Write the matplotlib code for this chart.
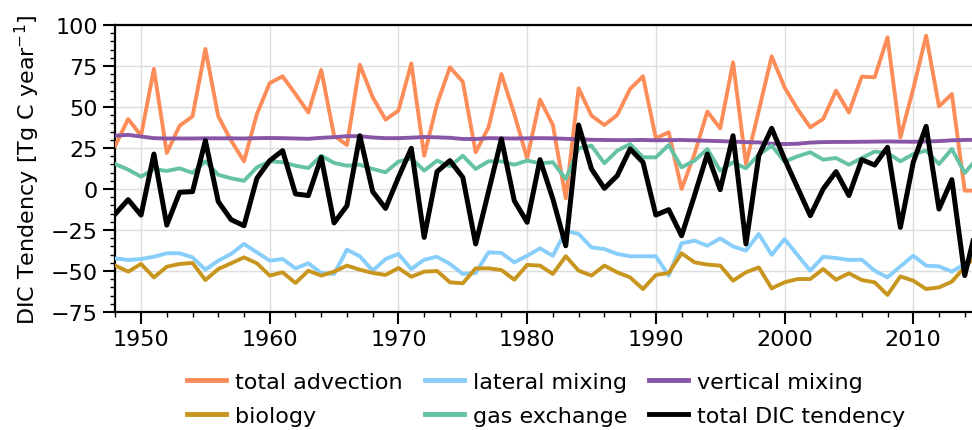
import matplotlib
matplotlib.use("Agg")
import matplotlib.pyplot as plt
from matplotlib.ticker import MultipleLocator

years = list(range(1948, 2016))

total_advection = [26.4, 42.7, 32.5, 73.2, 22.0, 38.6, 44.3, 85.4, 44.3, 29.5,
                   16.9, 45.7, 64.6, 68.7, 57.9, 46.7, 72.6, 32.5, 26.8, 75.8,
                   55.9, 42.3, 47.8, 76.6, 20.3, 51.8, 74.2, 65.4, 22.4, 37.6,
                   70.1, 45.7, 18.7, 54.5, 39.0, -5.7, 61.4, 44.7, 39.0, 45.1,
                   61.0, 68.7, 30.9, 34.6, 0.0, 21.3, 47.2, 37.0, 77.2, 15.2,
                   47.8, 80.9, 62.0, 48.8, 37.6, 42.7, 60.0, 46.7, 68.5, 68.1,
                   92.5, 31.5, 61.0, 93.5, 50.4, 57.9, -1.0, -1.0]

lateral_mixing = [-42.3, -43.3, -42.7, -41.3, -39.2, -39.2, -41.7, -49.2, -43.7, -39.6,
                  -33.5, -38.6, -43.7, -42.7, -48.4, -45.3, -51.2, -51.8, -37.0, -41.0,
                  -49.8, -42.7, -39.6, -48.8, -43.1, -41.3, -45.7, -51.8, -51.2, -38.6,
                  -39.0, -44.7, -40.7, -36.2, -40.7, -25.4, -27.4, -35.6, -36.6, -39.6,
                  -41.0, -41.0, -41.0, -52.8, -33.1, -31.5, -34.6, -30.1, -35.0, -37.6,
                  -27.4, -40.2, -30.5, -40.2, -49.8, -41.3, -42.1, -43.3, -43.1, -49.8,
                  -53.9, -47.2, -40.7, -46.7, -47.2, -50.4, -45.7, -38.0]

vertical_mixing = [32.5, 33.0, 32.0, 31.0, 30.8, 30.8, 30.8, 30.9, 30.9, 30.9,
                   30.8, 31.0, 31.1, 31.0, 30.8, 30.6, 31.2, 31.6, 32.2, 32.2,
                   31.4, 31.0, 31.0, 31.3, 31.7, 31.5, 31.2, 30.5, 30.5, 31.0,
                   30.9, 30.8, 30.9, 31.0, 30.9, 30.6, 30.3, 30.0, 29.9, 29.8,
                   29.8, 29.9, 29.7, 29.8, 29.9, 29.7, 29.4, 29.2, 28.9, 28.6,
                   28.4, 27.6, 27.4, 27.6, 28.3, 28.6, 28.7, 28.7, 28.8, 28.9,
                   29.0, 28.9, 28.8, 29.0, 29.2, 29.7, 29.9, 30.0]

biology = [-46.7, -50.4, -45.7, -53.9, -47.4, -45.7, -45.1, -55.5, -48.8, -45.3,
           -41.7, -45.3, -52.8, -50.8, -57.3, -49.8, -52.8, -50.4, -46.7, -49.2,
           -51.2, -52.4, -48.2, -53.5, -50.4, -50.0, -56.9, -57.5, -48.4, -48.4,
           -49.4, -55.3, -46.3, -46.7, -51.8, -41.0, -49.8, -52.8, -46.7, -50.8,
           -53.9, -61.0, -52.4, -51.2, -39.2, -44.7, -46.1, -46.7, -55.9, -50.8,
           -47.8, -60.6, -56.9, -54.9, -54.9, -48.8, -55.3, -51.4, -55.5, -56.9,
           -64.6, -53.3, -55.9, -61.0, -60.0, -56.5, -47.6, -40.0]

gas_exchange = [15.2, 11.8, 7.5, 12.2, 11.0, 12.6, 9.8, 16.9, 8.7, 6.5,
                5.0, 13.2, 16.9, 16.3, 14.2, 12.8, 20.3, 15.9, 14.2, 14.8,
                12.2, 10.2, 16.7, 18.7, 11.2, 17.3, 13.8, 20.3, 12.2, 16.9,
                16.9, 14.8, 17.3, 15.7, 16.3, 6.1, 24.8, 26.4, 15.7, 23.4,
                27.4, 19.3, 19.3, 26.8, 13.2, 17.3, 24.4, 11.2, 16.3, 12.6,
                21.0, 26.4, 16.7, 19.9, 22.4, 17.9, 18.9, 14.8, 18.9, 22.8,
                22.0, 16.9, 21.3, 23.4, 15.2, 24.4, 9.8, 19.0]

total_dic = [-15.2, -6.5, -15.9, 21.3, -22.0, -2.0, -1.6, 29.5, -7.7, -18.7,
             -22.4, 6.5, 17.3, 23.4, -3.0, -4.0, 19.3, -20.7, -10.2, 32.5,
             -1.6, -11.8, 7.1, 24.8, -29.5, 10.6, 17.3, 7.1, -33.5, -1.6,
             30.5, -7.1, -20.3, 17.9, -6.1, -34.6, 39.0, 12.2, 0.4, 8.1,
             24.4, 16.3, -15.9, -12.6, -28.5, -4.0, 21.3, -0.4, 32.5, -33.5,
             20.3, 37.0, 18.3, 1.0, -16.3, 0.0, 10.6, -4.0, 17.9, 14.6,
             25.4, -23.4, 16.3, 38.2, -12.2, 5.7, -52.8, -20.0]

series = [
    ("total advection", total_advection, "#fc8d59", 2.8),
    ("lateral mixing", lateral_mixing, "#87cefa", 2.8),
    ("vertical mixing", vertical_mixing, "#8856a7", 2.8),
    ("biology", biology, "#c8961e", 2.8),
    ("gas exchange", gas_exchange, "#66c2a5", 2.8),
    ("total DIC tendency", total_dic, "black", 3.6),
]

plt.rcParams["font.family"] = ["DejaVu Sans"]
plt.rcParams["font.size"] = 16

fig = plt.figure(figsize=(9.72, 4.31), dpi=100)
ax = fig.add_axes([115.3 / 972, 1 - 313 / 431, (977.6 - 115.3) / 972, (313 - 26) / 431])

handles = {}
for name, vals, color, lw in series:
    (h,) = ax.plot(years, vals, color=color, lw=lw, label=name, zorder=3)
    handles[name] = h

ax.set_xlim(1948, 2015)
ax.set_ylim(-75, 100)
ax.xaxis.set_major_locator(MultipleLocator(10))
ax.xaxis.set_minor_locator(MultipleLocator(2))
ax.yaxis.set_major_locator(MultipleLocator(25))
ax.yaxis.set_minor_locator(MultipleLocator(5))
ax.grid(True, which="major", color="#dddddd", lw=1.0, zorder=0)
ax.tick_params(which="major", direction="out", length=8.5, width=1.5, labelsize=16, pad=4)
ax.tick_params(which="minor", direction="out", length=3.5, width=1.0)
for sp in ax.spines.values():
    sp.set_linewidth(1.6)

ax.set_ylabel("DIC Tendency [Tg C year$^{-1}$]", fontsize=16, labelpad=6)

order = ["total advection", "biology", "lateral mixing", "gas exchange",
         "vertical mixing", "total DIC tendency"]
leg = ax.legend([handles[n] for n in order], order, loc="upper center",
                bbox_to_anchor=(0.5, -0.14), ncol=3, frameon=False,
                fontsize=16, handlelength=1.75, handletextpad=0.4,
                columnspacing=1.0, labelspacing=0.6)
for lh in leg.get_lines():
    lh.set_linewidth(3.5)

fig.savefig("out.png", dpi=100)
